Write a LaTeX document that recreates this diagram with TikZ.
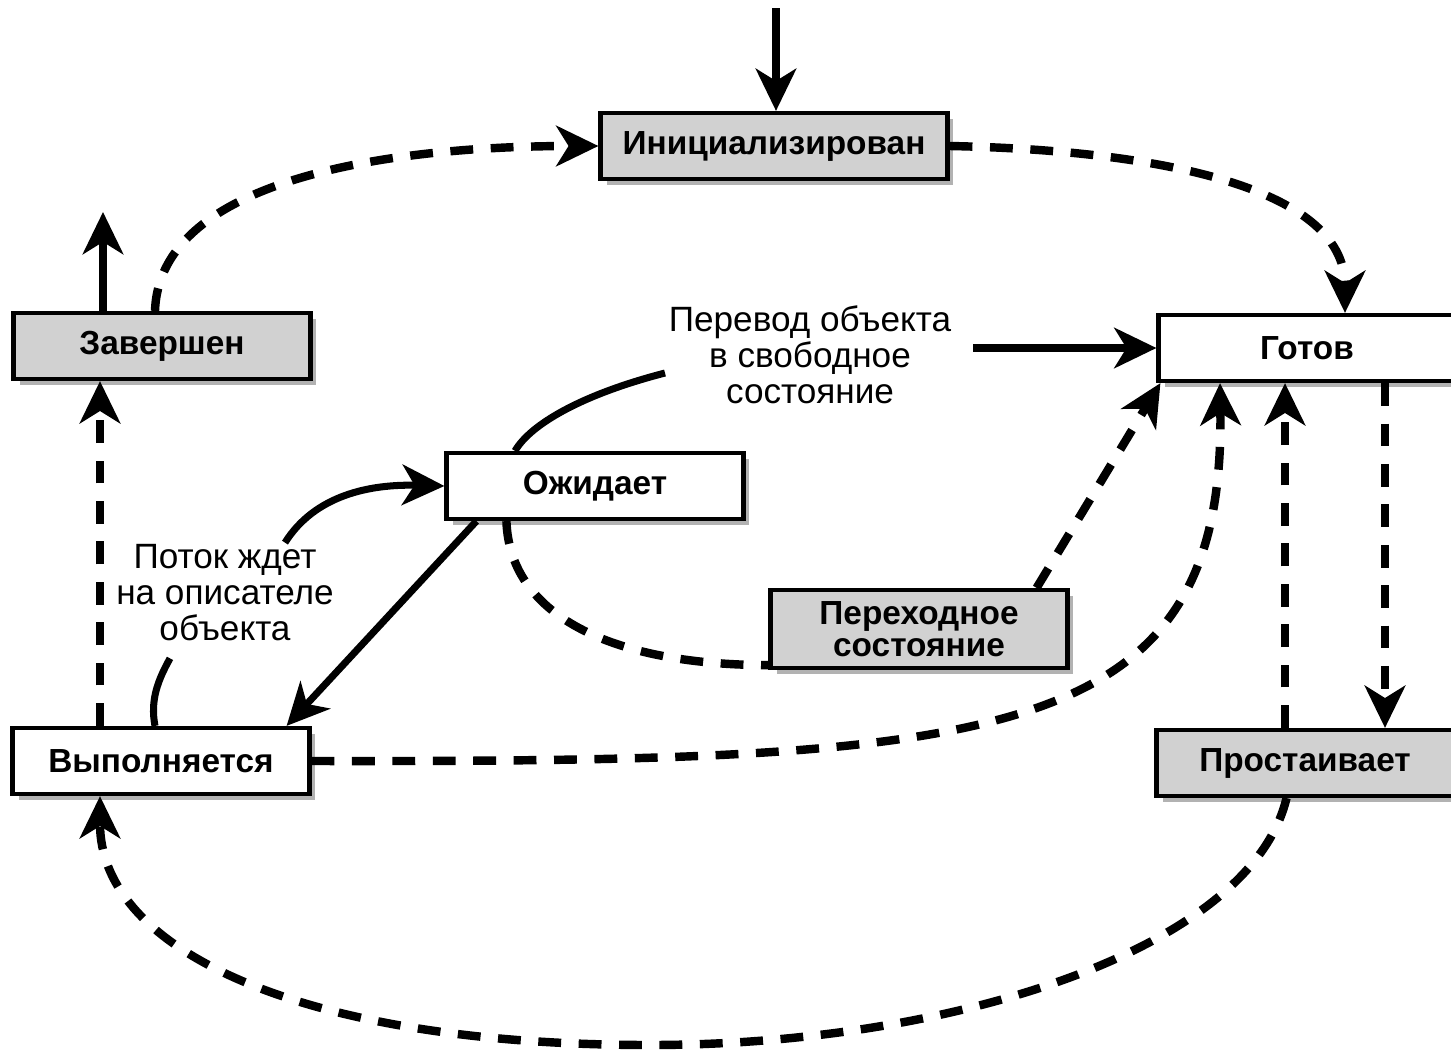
\documentclass[tikz,border=0pt]{standalone}
\usepackage{fontspec}
\setmainfont{Liberation Sans}
\usetikzlibrary{arrows.meta,shadows}

\begin{document}
\begin{tikzpicture}[x=0.02cm, y=-0.02cm,
    state/.style={draw, line width=2.4pt, fill=white, minimum width=5.94cm, minimum height=1.32cm,
      inner sep=2pt, align=center, font=\fontsize{19}{19}\selectfont\bfseries,
      drop shadow={shadow xshift=0.12cm, shadow yshift=-0.12cm, fill=black!30, opacity=1}},
    shaded/.style={state, fill=black!18},
    note/.style={align=center, inner sep=1pt, font=\fontsize{20}{20.5}\selectfont},
    link/.style={line width=4pt},
    flow/.style={link, -{Stealth[length=24pt, width=23pt, inset=7pt]}},
    jump/.style={line width=4.8pt, dash pattern=on 13pt off 10pt,
      -{Stealth[length=24pt, width=23pt, inset=7pt]}},
  ]

    \useasboundingbox (0,0) rectangle (1451,1052);

    % === States ===
    \node[shaded, minimum width=6.94cm] (init) at (774,146) {Инициализирован};
    \node[shaded] (done) at (162,346) {Завершен};
    \node[state] (ready) at (1307,348) {Готов};
    \node[state] (waiting) at (595,486) {Ожидает};
    \node[shaded, minimum height=1.56cm] (trans) at (919,629) {Переходное\\[-1pt]состояние};
    \node[state] (running) at (161,761) {Выполняется};
    \node[shaded] (standby) at (1305,763) {Простаивает};

    % === Notes ===
    \node[note] (freeNote) at (810,355) {Перевод объекта\\в свободное\\состояние};
    \node[note] (waitNote) at (225,593) {Поток ждет\\на описателе\\объекта};

    % Lanes and free ends
    \coordinate (Top) at (776,8);
    \coordinate (Exit) at (103,212);
    \coordinate (FreeTail) at (665,373);
    \coordinate (Bottom) at (650,1045);
    \coordinate (LeftLane) at (100,0);
    \coordinate (UpLane) at (1285,0);
    \coordinate (DownLane) at (1385,0);

    % === Solid connectors ===
    \draw[flow] (Top) -- (init.north -| Top);
    \draw[flow] (done.north -| Exit) -- (Exit);
    \draw[flow, shorten <=0.4cm] (freeNote.east |- ready.west) -- (ready.west);
    \draw[link] (FreeTail) .. controls (580,395) and (530,425) .. ([xshift=-1.6cm]waiting.north);
    \draw[flow] ([xshift=1.2cm]waitNote.north) .. controls (315,495) and (370,484) .. (waiting.west);
    \draw[link] (running.north -| 155,0) .. controls (150,700) and (158,680) .. ([xshift=-1.1cm,yshift=-0.3cm]waitNote.south);
    \draw[flow] ([xshift=0.64cm]waiting.south west) -- ([xshift=-0.5cm]running.north east);

    % === Dashed connectors ===
    \draw[jump] ([xshift=-0.14cm]done.north) .. controls (160,170) and (420,146) .. (init.west);
    \draw[jump] (init.east) .. controls (1150,150) and (1345,185) .. ([xshift=0.76cm]ready.north);
    \draw[jump, -] ([xshift=1.24cm]waiting.south west) .. controls (510,620) and (620,665) .. ([yshift=0.1cm]trans.south west);
    \draw[jump] ([xshift=-0.66cm]trans.north east) -- ([xshift=0.08cm]ready.south west);
    \draw[jump] (running.east) .. controls (1000,762) and (1225,745) .. ([xshift=-1.74cm]ready.south);
    \draw[jump] (standby.north -| UpLane) -- (ready.south -| UpLane);
    \draw[jump] (ready.south -| DownLane) -- (standby.north -| DownLane);
    \draw[jump] ([xshift=-0.37cm]standby.south) .. controls (1250,950) and (950,1045) .. (Bottom)
      .. controls (300,1045) and (100,950) .. (running.south -| LeftLane);
    \draw[jump] (running.north -| LeftLane) -- (done.south -| LeftLane);

\end{tikzpicture}
\end{document}
